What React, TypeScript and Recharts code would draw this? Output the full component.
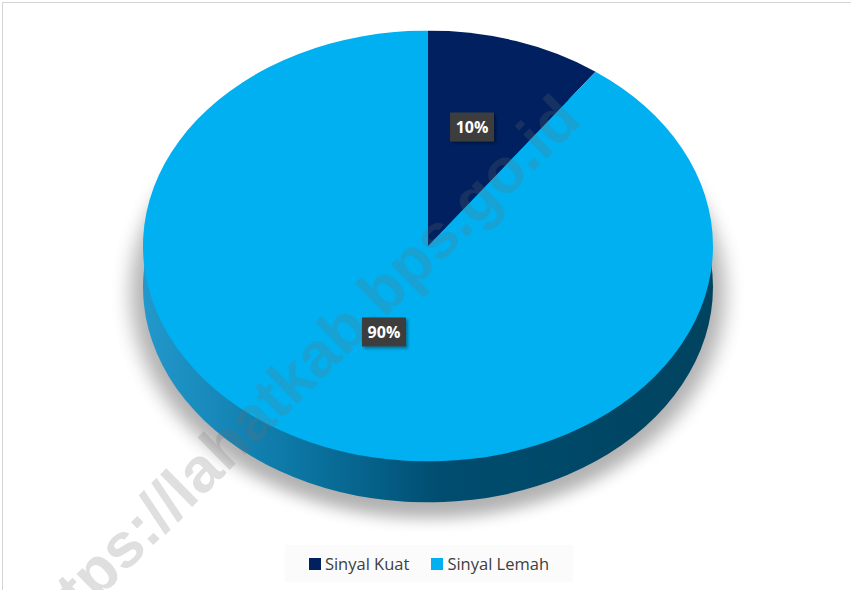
import React from 'react';
import { Cell, Legend, Pie, PieChart } from 'recharts';

const categories = ['Sinyal Kuat', 'Sinyal Lemah'];
const shares = [10, 90];
const topColors = ['#002060', '#00B0F0'];
const sideColors = ['#001540', 'url(#sideLemah)'];
const shadowColors = ['#000000', '#000000'];

const data = categories.map((name, i) => ({ name, value: shares[i] }));

const W = 851;
const H = 590;
const CX = 428;
const CY = 245.5;
const RX = 285;
const RY = 215.5;
const DEPTH = 41;
const RAD = Math.PI / 180;

function Disc({
  centerY,
  fills,
  filter,
  rx = RX,
  ry = RY,
  opacity = 1,
}: {
  centerY: number;
  fills: string[];
  filter?: string;
  rx?: number;
  ry?: number;
  opacity?: number;
}) {
  return (
    <div
      style={{
        position: 'absolute',
        left: CX - rx,
        top: centerY - rx,
        width: 2 * rx,
        height: 2 * rx,
        transform: `scaleY(${ry / rx})`,
        transformOrigin: '50% 50%',
        filter,
        opacity,
      }}
    >
      <PieChart width={2 * rx} height={2 * rx} margin={{ top: 0, right: 0, bottom: 0, left: 0 }}>
        <defs>
          <linearGradient id="sideLemah" x1="0" y1="0" x2={2 * rx} y2="0" gradientUnits="userSpaceOnUse">
            <stop offset="0%" stopColor="#2298cc" />
            <stop offset="25%" stopColor="#0c78a6" />
            <stop offset="50%" stopColor="#004d70" />
            <stop offset="100%" stopColor="#00425d" />
          </linearGradient>
        </defs>
        <Pie
          data={data}
          dataKey="value"
          nameKey="name"
          cx={rx}
          cy={rx}
          outerRadius={rx}
          startAngle={90}
          endAngle={-270}
          stroke="none"
          isAnimationActive={false}
        >
          {data.map((d, i) => (
            <Cell key={d.name} fill={fills[i]} />
          ))}
        </Pie>
      </PieChart>
    </div>
  );
}

function renderLabel(props: any) {
  const { midAngle, percent } = props;
  const x = CX + RX * 0.5 * Math.cos(-midAngle * RAD);
  const y = CY - 16 + RY * 0.5 * Math.sin(-midAngle * RAD);
  const w = 44;
  const h = 29;
  return (
    <g>
      <rect x={x - w / 2} y={y - h / 2} width={w} height={h} fill="#3d3d3d" filter="url(#boxShadow)" />
      <text
        x={x}
        y={y}
        textAnchor="middle"
        dominantBaseline="central"
        fill="#ffffff"
        fontSize={16}
        fontWeight="bold"
        fontFamily="'Open Sans', sans-serif"
      >
        {`${Math.round(percent * 100)}%`}
      </text>
    </g>
  );
}

function LegendBox({ payload }: { payload?: any[] }) {
  return (
    <div
      style={{
        display: 'flex',
        justifyContent: 'center',
        alignItems: 'center',
        gap: 22,
        height: 37,
        background: '#fbfbfb',
        fontFamily: "'Open Sans', sans-serif",
        fontSize: 16.5,
        color: '#404040',
      }}
    >
      {(payload ?? []).map((p, i) => (
        <span key={p.value} style={{ display: 'flex', alignItems: 'center' }}>
          <span
            style={{
              width: 12,
              height: 12,
              background: topColors[i] ?? p.color,
              marginRight: 4,
              display: 'inline-block',
            }}
          />
          {p.value}
        </span>
      ))}
    </div>
  );
}

export default function App() {
  return (
    <div style={{ position: 'relative', width: W, height: H, overflow: 'hidden', background: '#fff' }}>
      <style>{'body{margin:0}'}</style>
      <div
        style={{
          position: 'absolute',
          left: 2,
          top: 2,
          width: W + 20,
          height: H + 20,
          border: '1px solid #d4d4d4',
        }}
      />
      {/* soft shadow under the pie */}
      <Disc
        centerY={CY + DEPTH + 6}
        rx={RX + 12}
        ry={RY + 10}
        fills={shadowColors}
        filter="blur(10px)"
        opacity={0.3}
      />
      <Disc centerY={CY + DEPTH} fills={sideColors} />
      <Disc centerY={CY} fills={topColors} />
      <div
        style={{
          position: 'absolute',
          left: 296,
          top: 374,
          transform: 'translate(-50%, -50%) rotate(-44.5deg)',
          whiteSpace: 'nowrap',
          fontFamily: "'Liberation Sans', Arial, sans-serif",
          fontWeight: 'bold',
          fontSize: 63,
          color: 'rgba(110,110,110,0.22)',
          pointerEvents: 'none',
        }}
      >
        https://lahatkab.bps.go.id
      </div>
      <div style={{ position: 'absolute', left: 0, top: 0 }}>
        <PieChart width={W} height={H} margin={{ top: 0, right: 0, bottom: 0, left: 0 }}>
          <defs>
            <filter id="boxShadow" x="-20%" y="-20%" width="150%" height="160%">
              <feDropShadow dx="2" dy="2" stdDeviation="1.5" floodColor="#000" floodOpacity="0.35" />
            </filter>
          </defs>
          <Pie
            data={data}
            dataKey="value"
            nameKey="name"
            cx={CX}
            cy={CY}
            outerRadius={RX}
            startAngle={90}
            endAngle={-270}
            stroke="none"
            fillOpacity={0}
            label={renderLabel}
            labelLine={false}
            isAnimationActive={false}
          >
            {data.map((d, i) => (
              <Cell key={d.name} fill={topColors[i]} fillOpacity={0} />
            ))}
          </Pie>
          <Legend
            content={<LegendBox />}
            wrapperStyle={{ position: 'absolute', left: 285, top: 545, width: 288, height: 37, bottom: 'auto' }}
          />
        </PieChart>
      </div>
    </div>
  );
}
